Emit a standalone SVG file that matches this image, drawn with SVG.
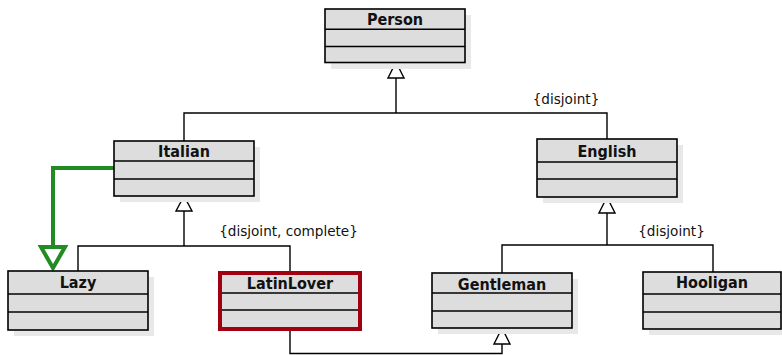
<svg xmlns="http://www.w3.org/2000/svg" width="782" height="355" viewBox="0 0 782 355">
<style>
.sh{fill:#e8e8e8;stroke:none}
.bx{fill:#dddddd;stroke:#000;stroke-width:1.6}
.red{fill:#dddddd;stroke:#a00010;stroke-width:4}
.ln{stroke:#000;stroke-width:1.6;fill:none}
.t{font-family:"DejaVu Sans Condensed","DejaVu Sans",sans-serif;font-weight:bold;font-size:16px;text-anchor:middle;fill:#111}
.lb{font-family:"DejaVu Sans",sans-serif;font-size:13.6px;text-anchor:middle;fill:#111}
.c{fill:none;stroke:#000;stroke-width:1.4}
.tri{fill:#fff;stroke:#000;stroke-width:1.4}
</style>
<rect width="782" height="355" fill="#fff"/>
<g id="connectors">
<polyline class="c" points="396,78 396,113"/>
<polyline class="c" points="184,141 184,113 607,113 607,139"/>
<polygon class="tri" points="396,62 388,78 404,78"/>
<polyline class="c" points="184,211 184,246"/>
<polyline class="c" points="78,271 78,246 290,246 290,271"/>
<polygon class="tri" points="184,196 176,211 192,211"/>
<polyline class="c" points="607,213 607,245"/>
<polyline class="c" points="502,273 502,245 713,245 713,272"/>
<polygon class="tri" points="607,197 599,213 615,213"/>
<polyline class="c" points="290,331 290,353.5 502,353.5 502,344"/>
<polygon class="tri" points="502,328 494,344 510,344"/>
<polyline points="114,168 53,168 53,247" fill="none" stroke="#228b22" stroke-width="4"/>
<polygon points="53,268 41,247 65,247" fill="#fff" stroke="#228b22" stroke-width="4" stroke-linejoin="miter"/>
<text class="lb" x="566" y="104">{disjoint}</text>
<text class="lb" x="288.5" y="236">{disjoint, complete}</text>
<text class="lb" x="671.5" y="236">{disjoint}</text>
</g>
<g id="Person">
<rect class="sh" x="331" y="15" width="140" height="54"/>
<rect class="bx" x="325" y="9" width="140" height="53.5"/>
<line class="ln" x1="325" y1="29.3" x2="465" y2="29.3"/>
<line class="ln" x1="325" y1="46.5" x2="465" y2="46.5"/>
<text class="t" x="395" y="25">Person</text>
</g>
<g id="Italian">
<rect class="sh" x="120" y="147" width="140" height="55"/>
<rect class="bx" x="114" y="141" width="140" height="55"/>
<line class="ln" x1="114" y1="161" x2="254" y2="161"/>
<line class="ln" x1="114" y1="179" x2="254" y2="179"/>
<text class="t" x="184" y="157">Italian</text>
</g>
<g id="English">
<rect class="sh" x="543" y="145" width="140" height="58"/>
<rect class="bx" x="537" y="139" width="140" height="58"/>
<line class="ln" x1="537" y1="162" x2="677" y2="162"/>
<line class="ln" x1="537" y1="179" x2="677" y2="179"/>
<text class="t" x="607" y="157">English</text>
</g>
<g id="Lazy">
<rect class="sh" x="14" y="277" width="140" height="59"/>
<rect class="bx" x="8" y="271" width="140" height="59"/>
<line class="ln" x1="8" y1="294" x2="148" y2="294"/>
<line class="ln" x1="8" y1="312" x2="148" y2="312"/>
<text class="t" x="78" y="288">Lazy</text>
</g>
<g id="LatinLover">
<rect class="red" x="220" y="273" width="140" height="56"/>
<line class="ln" x1="222" y1="293" x2="358" y2="293"/>
<line class="ln" x1="222" y1="310" x2="358" y2="310"/>
<text class="t" x="290" y="289">LatinLover</text>
</g>
<g id="Gentleman">
<rect class="sh" x="438" y="279" width="140" height="55"/>
<rect class="bx" x="432" y="273" width="140" height="55"/>
<line class="ln" x1="432" y1="293" x2="572" y2="293"/>
<line class="ln" x1="432" y1="311" x2="572" y2="311"/>
<text class="t" x="502" y="289.5">Gentleman</text>
</g>
<g id="Hooligan">
<rect class="sh" x="649" y="278" width="140" height="57"/>
<rect class="bx" x="643" y="272" width="138" height="57"/>
<line class="ln" x1="643" y1="294" x2="781" y2="294"/>
<line class="ln" x1="643" y1="312" x2="781" y2="312"/>
<text class="t" x="712" y="288">Hooligan</text>
</g>
</svg>
